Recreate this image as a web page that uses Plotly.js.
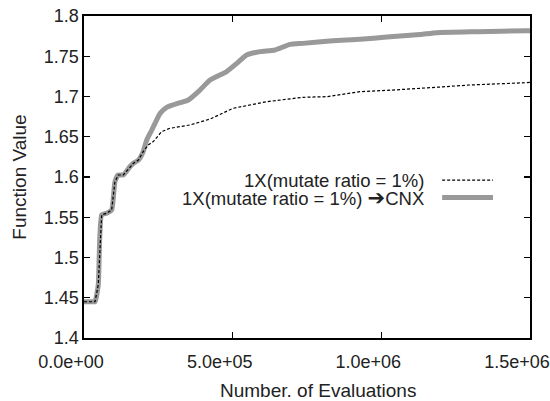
<!DOCTYPE html>
<html>
<head>
<meta charset="utf-8">
<script src="https://cdn.plot.ly/plotly-3.0.1.min.js"></script>
<style>html,body{margin:0;padding:0;background:#fff;}#chart{width:550px;height:401px;}</style>
</head>
<body>
<div id="chart"></div>
<script>
// Series: 1X (mutate ratio = 1%)
const evals1X = [0, 30000, 37000, 48000, 59500, 76000, 93000, 104000, 115000, 132000, 155000, 166000, 183000, 199000,
  216000, 233000, 261000, 289000, 356000, 424000, 501000, 558000, 614000, 736000, 817000, 928000, 1039000, 1207000, 1298000, 1490000, 1500000];
const value1X = [1.445, 1.445, 1.445, 1.466, 1.553, 1.555, 1.559, 1.594, 1.6025, 1.6025, 1.613, 1.617, 1.621, 1.6315,
  1.6398, 1.644, 1.6563, 1.6605, 1.6646, 1.672, 1.6853, 1.6894, 1.6935, 1.699, 1.6998, 1.706, 1.708, 1.712, 1.7143, 1.7172, 1.7175];

// Series: 1X (mutate ratio = 1%) -> CNX
const evalsCNX = [0, 30000, 37000, 48000, 59500, 76000, 93000, 104000, 115000, 132000, 155000, 166000, 183000, 199000,
  211000, 228000, 244500, 256000, 278000, 323000, 351000, 390000, 424000, 480000, 514000, 547000, 592000, 642000, 693000,
  736000, 837000, 928000, 1019000, 1130000, 1187000, 1322000, 1490000, 1500000];
const valueCNX = [1.445, 1.445, 1.445, 1.466, 1.553, 1.555, 1.559, 1.594, 1.6025, 1.6025, 1.613, 1.617, 1.621, 1.6315,
  1.646, 1.6584, 1.671, 1.679, 1.6866, 1.6923, 1.6957, 1.708, 1.7205, 1.731, 1.7412, 1.7516, 1.7557, 1.7578, 1.7648,
  1.766, 1.7693, 1.771, 1.774, 1.777, 1.7793, 1.7805, 1.7817, 1.7818];

const seriesNames = ["1X(mutate ratio = 1%)", "1X(mutate ratio = 1%) \u2794CNX"];
const xTitle = "Number. of Evaluations";
const yTitle = "Function Value";
const xTickVals = [0, 500000, 1000000, 1500000];
const xTickText = ["0.0e+00", "5.0e+05", "1.0e+06", "1.5e+06"];
const yTickVals = [1.4, 1.45, 1.5, 1.55, 1.6, 1.65, 1.7, 1.75, 1.8];
const yTickText = ["1.4", "1.45", "1.5", "1.55", "1.6", "1.65", "1.7", "1.75", "1.8"];

const FONT = "Liberation Sans, Arial, sans-serif";
const TXT = "#222";
const GRAY = "#999999";

// legend label with an enlarged arrow glyph, built from the series name
const legendLabel2 = seriesNames[1].replace("\u2794", '<span style="font-family:DejaVu Sans;font-size:21px">\u2794</span>');

const traces = [
  {x: evalsCNX, y: valueCNX, type: "scatter", mode: "lines", name: seriesNames[1],
   line: {color: GRAY, width: 5, shape: "spline", smoothing: 0.5}, showlegend: false, hoverinfo: "skip"},
  {x: evals1X, y: value1X, type: "scatter", mode: "lines", name: seriesNames[0],
   line: {color: "#000000", width: 1.2, dash: "3px,2px"}, showlegend: false, hoverinfo: "skip"}
];

const axisCommon = {
  showline: true, linecolor: "#000", linewidth: 1.6, mirror: "ticks",
  ticks: "inside", ticklen: 6, tickwidth: 1.2, tickcolor: "#000",
  showgrid: false, zeroline: false,
  tickfont: {family: FONT, size: 18, color: TXT}
};

const layout = {
  width: 550, height: 401,
  margin: {l: 84, r: 20, t: 16, b: 63},
  paper_bgcolor: "#fff", plot_bgcolor: "#fff",
  font: {family: FONT, size: 18, color: TXT},
  showlegend: false,
  xaxis: Object.assign({}, axisCommon, {
    range: [0, 1500000], tickmode: "array", tickvals: xTickVals, ticktext: xTickText,
    ticklabelshift: -13, ticklabelstandoff: 7
  }),
  yaxis: Object.assign({}, axisCommon, {
    range: [1.4, 1.8], tickmode: "array", tickvals: yTickVals, ticktext: yTickText,
    title: {text: yTitle, font: {family: FONT, size: 19, color: TXT}, standoff: 12}
  }),
  annotations: [
    {xref: "paper", yref: "paper", x: 0.524, y: -0.163, xanchor: "center", yanchor: "middle",
     text: xTitle, showarrow: false, font: {family: FONT, size: 19, color: TXT}},
    {xref: "paper", yref: "paper", x: 0.767, y: 0.49, xanchor: "right", yanchor: "middle",
     text: seriesNames[0], showarrow: false, font: {family: FONT, size: 18.5, color: TXT}},
    {xref: "paper", yref: "paper", x: 0.767, y: 0.436, xanchor: "right", yanchor: "middle",
     text: legendLabel2, showarrow: false, font: {family: FONT, size: 18.5, color: TXT}}
  ],
  shapes: [
    {type: "line", xref: "paper", yref: "paper", x0: 0.803, x1: 0.917, y0: 0.49, y1: 0.49,
     line: {color: "#000", width: 1.2, dash: "3px,2px"}},
    {type: "line", xref: "paper", yref: "paper", x0: 0.803, x1: 0.917, y0: 0.436, y1: 0.436,
     line: {color: GRAY, width: 5}}
  ]
};

Plotly.newPlot("chart", traces, layout, {staticPlot: true, displayModeBar: false});
</script>
</body>
</html>
